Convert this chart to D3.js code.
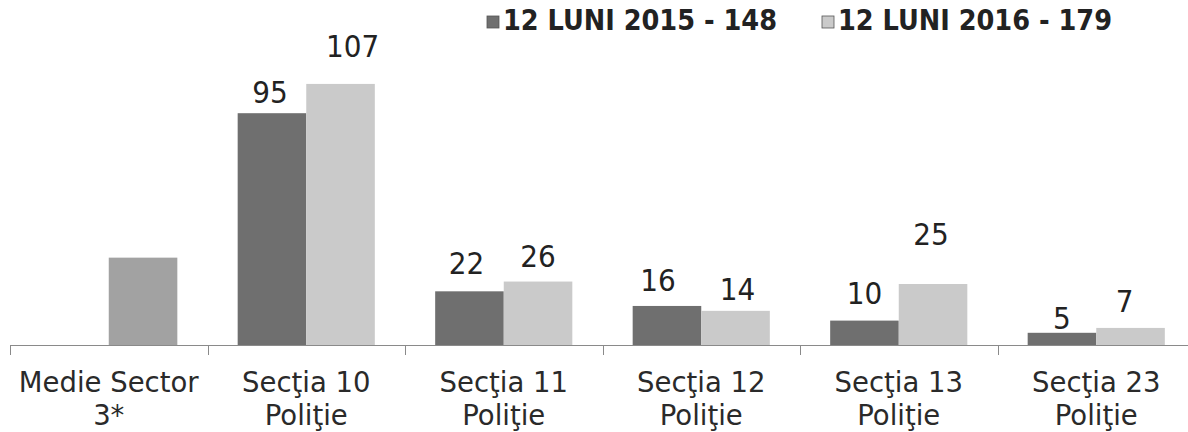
<!DOCTYPE html>
<html>
<head>
<meta charset="utf-8">
<script src="https://cdn.jsdelivr.net/npm/d3@7"></script>
<style>
  html, body { margin: 0; padding: 0; background: #fff; }
  svg { display: block; }
</style>
</head>
<body>
<svg id="chart" width="1188" height="432"></svg>
<script>
// Categories (two-line axis labels)
const categories = ["Medie Sector 3*", "Secţia 10 Poliţie", "Secţia 11 Poliţie", "Secţia 12 Poliţie", "Secţia 13 Poliţie", "Secţia 23 Poliţie"];
const categoryLines = [["Medie Sector", "3*"], ["Secţia 10", "Poliţie"], ["Secţia 11", "Poliţie"], ["Secţia 12", "Poliţie"], ["Secţia 13", "Poliţie"], ["Secţia 23", "Poliţie"]];

// Series values
const seriesNames = ["12 LUNI 2015 - 148", "12 LUNI 2016 - 179"];
const values2015 = [null, 95, 22, 16, 10, 5];
const values2016 = [null, 107, 26, 14, 25, 7];
// Sector average (drawn in the first group only)
const sectorAverage = 35.8;

// Label placement tweaks (px above bar top, horizontal shift)
const labelGap2015 = [0, 10, 17, 15, 17, 4];
const labelGap2016 = [0, 27, 15, 11, 39, 16];
const labelShift2015 = [0, -2, -3, -9, 0, 0];
const labelShift2016 = [0, 12, 0, 2, -2, -6];

const colors = { s2015: "#6f6f6f", s2016: "#cacaca", avg: "#a2a2a2" };

const svg = d3.select("#chart");
const baseY = 345;

const x0 = d3.scaleBand().domain(categories).range([10, 1195]).paddingInner(0).paddingOuter(0);
const x1 = d3.scaleBand().domain(["2015", "2016"]).range([0, x0.bandwidth()]).paddingInner(0).paddingOuter(0.44);
const y = d3.scaleLinear().domain([0, 120]).range([baseY, baseY - 120 * 2.44]);

const series = [
  { key: "2015", values: values2015, gaps: labelGap2015, shifts: labelShift2015, color: colors.s2015 },
  { key: "2016", values: values2016, gaps: labelGap2016, shifts: labelShift2016, color: colors.s2016 }
];

const plot = svg.append("g");

// Average bar in the first category, second slot
plot.append("rect")
  .attr("x", x0(categories[0]) + x1("2016"))
  .attr("y", y(sectorAverage))
  .attr("width", x1.bandwidth())
  .attr("height", baseY - y(sectorAverage))
  .attr("fill", colors.avg);

series.forEach(s => {
  const rows = categories.map((c, i) => ({ c, v: s.values[i], gap: s.gaps[i], dx: s.shifts[i] })).filter(d => d.v != null);
  plot.selectAll(null).data(rows).enter().append("rect")
    .attr("x", d => x0(d.c) + x1(s.key))
    .attr("y", d => y(d.v))
    .attr("width", x1.bandwidth())
    .attr("height", d => baseY - y(d.v))
    .attr("fill", s.color);
  plot.selectAll(null).data(rows).enter().append("text")
    .attr("x", d => x0(d.c) + x1(s.key) + x1.bandwidth() / 2 + d.dx)
    .attr("y", d => y(d.v) - d.gap)
    .attr("text-anchor", "middle")
    .attr("font-family", "'DejaVu Sans Condensed', 'DejaVu Sans', sans-serif")
    .attr("font-size", 31)
    .attr("fill", "#222")
    .text(d => d.v);
});

// Axis line and boundary ticks
const axis = svg.append("g");
axis.append("line")
  .attr("x1", x0.range()[0]).attr("x2", 1188)
  .attr("y1", baseY + 0.5).attr("y2", baseY + 0.5)
  .attr("stroke", "#8a8a8a").attr("stroke-width", 1.2);
axis.selectAll(null).data(categories).enter().append("line")
  .attr("x1", d => Math.round(x0(d)) + 0.5).attr("x2", d => Math.round(x0(d)) + 0.5)
  .attr("y1", baseY).attr("y2", baseY + 10)
  .attr("stroke", "#8a8a8a").attr("stroke-width", 1);

// Category labels
const xAxis = d3.axisBottom(x0).tickSize(0).tickFormat("");
const axisG = svg.append("g").attr("transform", `translate(0,${baseY})`).call(xAxis);
axisG.select(".domain").remove();
axisG.selectAll(".tick").each(function (d, i) {
  const t = d3.select(this).append("text")
    .attr("text-anchor", "middle")
    .attr("font-family", "'DejaVu Sans', sans-serif")
    .attr("font-size", 27.5)
    .attr("fill", "#2a2a2a");
  categoryLines[i].forEach((line, j) => {
    t.append("tspan").attr("x", 0).attr("y", 47 + j * 33).text(line);
  });
});

// Legend
const legendX = [487, 822];
const legendColors = [colors.s2015, colors.s2016];
seriesNames.forEach((name, i) => {
  const g = svg.append("g").attr("transform", `translate(${legendX[i]},0)`);
  g.append("rect").attr("x", 0).attr("y", 16).attr("width", 12).attr("height", 12)
    .attr("fill", legendColors[i]).attr("stroke", "#555").attr("stroke-width", 0.8);
  g.append("text").attr("x", 16).attr("y", 30)
    .attr("font-family", "'DejaVu Sans Condensed', 'DejaVu Sans', sans-serif")
    .attr("font-weight", "bold")
    .attr("font-size", 28.5)
    .attr("fill", "#222")
    .text(name);
});
</script>
</body>
</html>
